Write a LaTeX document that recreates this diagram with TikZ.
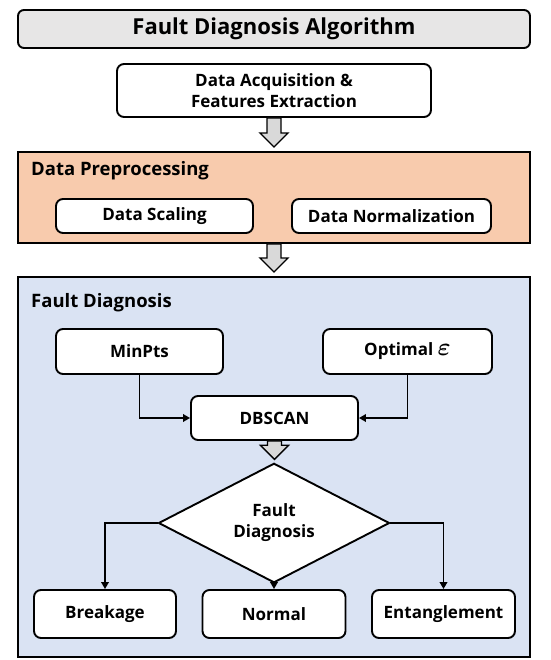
\documentclass[tikz,border=0pt]{standalone}
\usepackage{fontspec}
\usepackage{amsmath}
\setmainfont{Open Sans}
\usetikzlibrary{shapes.geometric,arrows.meta,calc}
\definecolor{titlegray}{RGB}{231,230,230}
\definecolor{peach}{RGB}{248,203,173}
\definecolor{paleblue}{RGB}{218,227,243}
\definecolor{arrowgray}{RGB}{217,217,217}
\tikzset{
  box/.style={draw=black, line width=1.9pt, rounded corners=7pt, fill=white, inner sep=0pt,
    font=\fontsize{17}{21}\selectfont\bfseries, align=center},
  panel/.style={draw=black, line width=1.9pt, inner sep=0pt},
  paneltitle/.style={anchor=base west, inner sep=0pt, font=\fontsize{18.5}{22}\selectfont\bfseries},
  conn/.style={draw=black, line width=1.9pt, -{Triangle[length=7pt,width=7.5pt]}},
  blockarrow/.style={draw=black, line width=1.3pt, fill=arrowgray, line join=miter},
  decision/.style={diamond, draw=black, line width=1.9pt, fill=white, inner sep=0pt,
    font=\fontsize{17}{21}\selectfont\bfseries, align=center}
}
\newcommand{\blockarr}[2]{%
  \path let \p1=(#1.south), \p2=(#2.north) in
    [blockarrow] (\x1-7pt,\y1) -- (\x1-7pt,\y2+18pt) -- (\x1-14pt,\y2+18pt) -- (\x1,\y2+4pt)
    -- (\x1+14pt,\y2+18pt) -- (\x1+7pt,\y2+18pt) -- (\x1+7pt,\y1) -- cycle;}
\begin{document}
\begin{tikzpicture}[x=1pt,y=-1pt]
\useasboundingbox (0,0) rectangle (550,660);
% title
\node[box, fill=titlegray, rounded corners=6pt, minimum width=512pt, minimum height=38pt,
  font=\fontsize{22}{26}\selectfont\bfseries] (title) at (274,29) {Fault Diagnosis Algorithm};
% acquisition
\node[box, minimum width=314pt, minimum height=53pt] (acq) at (274,90.5)
  {Data Acquisition \&\\Features Extraction};
% preprocessing panel
\node[panel, fill=peach, minimum width=512pt, minimum height=91pt] (pre) at (274,197.5) {};
\node[paneltitle] (pretitle) at (31,176) {Data Preprocessing};
\node[box, minimum width=197pt, minimum height=34pt] (scal) at (154.5,216) {Data Scaling};
\node[box, minimum width=199pt, minimum height=34pt] (norm) at (391.5,216) {Data Normalization};
% fault diagnosis panel
\node[panel, fill=paleblue, minimum width=512pt, minimum height=380pt] (fd) at (274,467) {};
\node[paneltitle] (fdtitle) at (31,307) {Fault Diagnosis};
\node[box, minimum width=167pt, minimum height=45pt] (minpts) at (139.5,351.5) {MinPts};
\node[box, minimum width=169pt, minimum height=45pt] (opt) at (407.5,351.5)
  {Optimal {\fontsize{23}{23}\selectfont$\boldsymbol{\varepsilon}$}};
\node[box, minimum width=167pt, minimum height=44pt] (db) at (274.5,418) {DBSCAN};
\node[decision, minimum width=231pt, minimum height=100pt] (dia) at (274,523)
  {Fault\\Diagnosis};
\node[box, minimum width=142pt, minimum height=48pt] (brk) at (105,614) {Breakage};
\node[box, minimum width=143pt, minimum height=48pt] (nor) at (274,614) {Normal};
\node[box, minimum width=143pt, minimum height=48pt] (ent) at (443.5,614) {Entanglement};
% block arrows
\blockarr{acq}{pre}
\blockarr{pre}{fd}
\path let \p1=(db.south), \p2=(dia.north) in
    [blockarrow] (\x1-7pt,\y1) -- (\x1-7pt,\y2+17pt) -- (\x1-14pt,\y2+17pt) -- (\x1,\y2+3pt)
    -- (\x1+14pt,\y2+17pt) -- (\x1+7pt,\y2+17pt) -- (\x1+7pt,\y1) -- cycle;
% connectors
\draw[conn] (minpts.south) |- (db.west);
\draw[conn] (opt.south) |- (db.east);
\draw[conn] (dia.west) -| (brk.north);
\draw[conn] (dia.east) -| (ent.north);
\draw[conn] (dia.south) -- (nor.north);
\end{tikzpicture}
\end{document}
